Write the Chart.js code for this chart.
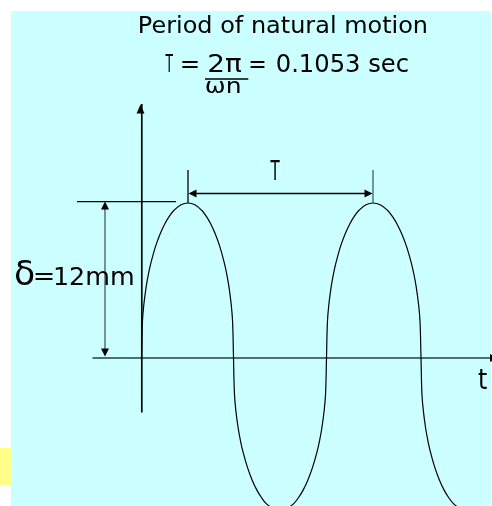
<!DOCTYPE html>
<html>
<head>
<meta charset="utf-8">
<script src="https://cdn.jsdelivr.net/npm/chart.js@4/dist/chart.umd.min.js"></script>
<style>
html,body{margin:0;padding:0;background:#ffffff;}
canvas{display:block;}
</style>
</head>
<body>
<canvas id="c" width="492" height="506" style="width:492px;height:506px"></canvas>
<script>
// ---- data ----
// time in seconds, displacement in mm
const timeSec = [
  0, 0.00053, 0.00132, 0.00265, 0.00397, 0.00529, 0.00794, 0.01059, 0.01324, 0.01588, 0.01853, 0.0225, 0.02647,
  0.03036, 0.03424, 0.03683, 0.03942, 0.04201, 0.0446, 0.04719, 0.04849, 0.04978, 0.05108, 0.05185, 0.05237,
  0.0529, 0.05369, 0.05502, 0.05634, 0.05766, 0.06031, 0.06295, 0.0656, 0.06825, 0.07089, 0.07486, 0.07883,
  0.0828, 0.08677, 0.08942, 0.09207, 0.09471, 0.09736, 0.10001, 0.10133, 0.10265, 0.10398, 0.10477, 0.1053,
  0.10583, 0.10662, 0.10795, 0.10927, 0.11059, 0.11324, 0.11589, 0.11854, 0.12118, 0.12383, 0.1278, 0.13177,
  0.13587, 0.13997, 0.1427, 0.14543, 0.14816, 0.15089, 0.15363, 0.15499, 0.15636, 0.15772, 0.15854, 0.15909,
  0.15961, 0.1604, 0.16171, 0.16302, 0.16433, 0.16694, 0.16956, 0.17218, 0.1748, 0.17742, 0.18134, 0.18527
];
const displacementMm = [
  0, 2.81, 4.12, 5.51, 6.52, 7.33, 8.62, 9.60, 10.38, 10.98, 11.44, 11.86, 12,
  11.86, 11.44, 10.98, 10.38, 9.60, 8.62, 7.33, 6.52, 5.51, 4.12, 2.81, 0,
  -2.76, -4.05, -5.42, -6.41, -7.21, -8.47, -9.44, -10.21, -10.80, -11.25, -11.66, -11.8,
  -11.66, -11.25, -10.80, -10.21, -9.44, -8.47, -7.21, -6.41, -5.42, -4.05, -2.76, 0,
  2.81, 4.12, 5.51, 6.52, 7.33, 8.62, 9.60, 10.38, 10.98, 11.44, 11.86, 12,
  11.86, 11.44, 10.98, 10.38, 9.60, 8.62, 7.33, 6.52, 5.51, 4.12, 2.81, 0,
  -2.76, -4.05, -5.42, -6.41, -7.21, -8.47, -9.44, -10.21, -10.80, -11.25, -11.66, -11.8
];
const periodPeaks = [0.02647, 0.13177];   // T measured peak to peak
const deltaMm = 12;                        // amplitude δ
const titleText = "Period of natural motion";
const formulaParts = ["T", "=", "2\u03C0", "\u03C9n", "=", "0.1053 sec"];
const periodLabel = "T";
const deltaLabel = ["\u03B4", "=", "12mm"];
const timeAxisLabel = "t";

// ---- drawing helpers ----
const FONT = '"DejaVu Sans", "Liberation Sans", sans-serif';
// draw text at a given font size, squeezing horizontally so its ink spans L..R
function fitW(ctx, text, L, baseline, R, size) {
  ctx.save();
  ctx.font = size + 'px ' + FONT;
  const m = ctx.measureText(text);
  const iw = m.actualBoundingBoxLeft + m.actualBoundingBoxRight;
  const sx = (R - L) / iw;
  ctx.translate(L + m.actualBoundingBoxLeft * sx, baseline);
  ctx.scale(sx, 1);
  ctx.textAlign = 'left';
  ctx.textBaseline = 'alphabetic';
  ctx.fillStyle = '#000';
  ctx.fillText(text, 0, 0);
  ctx.restore();
}
function line(ctx, x1, y1, x2, y2, color, w) {
  ctx.beginPath();
  ctx.moveTo(x1, y1); ctx.lineTo(x2, y2);
  ctx.strokeStyle = color; ctx.lineWidth = w; ctx.stroke();
}
function arrow(ctx, tx, ty, dir, len, hw, color) {
  ctx.beginPath();
  ctx.moveTo(tx, ty);
  if (dir === 'up')    { ctx.lineTo(tx - hw, ty + len); ctx.lineTo(tx + hw, ty + len); }
  if (dir === 'down')  { ctx.lineTo(tx - hw, ty - len); ctx.lineTo(tx + hw, ty - len); }
  if (dir === 'left')  { ctx.lineTo(tx + len, ty - hw); ctx.lineTo(tx + len, ty + hw); }
  if (dir === 'right') { ctx.lineTo(tx - len, ty - hw); ctx.lineTo(tx - len, ty + hw); }
  ctx.closePath();
  ctx.fillStyle = color; ctx.fill();
}

const deco = {
  id: 'deco',
  beforeDraw(chart) {
    const c = chart.ctx;
    c.save();
    c.fillStyle = '#ffffff'; c.fillRect(0, 0, 492, 506);
    c.fillStyle = '#CCFFFF'; c.fillRect(11, 11, 480, 495);
    c.fillStyle = '#FFFF88'; c.fillRect(0, 448, 11, 37);
    c.restore();
  },
  beforeDatasetsDraw(chart) {
    const c = chart.ctx, xs = chart.scales.x, ys = chart.scales.y;
    const x0 = xs.getPixelForValue(0), y0 = ys.getPixelForValue(0);
    c.save();
    // time axis
    line(c, x0 - 49, y0, 491, y0, '#4f6f6f', 2.2);
    c.save(); c.beginPath(); c.rect(0, 0, 492, 506); c.clip();
    arrow(c, 499, y0, 'right', 9, 4, '#000');
    c.restore();
    // displacement axis
    line(c, x0 + 0.3, 104, x0 + 0.3, 412.5, '#000', 1.7);
    arrow(c, x0 - 1, 104.5, 'up', 9, 4, '#000');
    c.restore();
  },
  afterDatasetsDraw(chart) {
    const c = chart.ctx, xs = chart.scales.x, ys = chart.scales.y;
    const x0 = xs.getPixelForValue(0), y0 = ys.getPixelForValue(0);
    const yPeak = ys.getPixelForValue(deltaMm);
    const xa = xs.getPixelForValue(periodPeaks[0]);
    const xb = xs.getPixelForValue(periodPeaks[1]);
    c.save();
    // period dimension
    const yT = yPeak - 9.5;
    line(c, xa, 170, xa, yPeak, '#000', 1.3);
    line(c, xb, 170, xb, yPeak, '#3f5f5f', 1.3);
    line(c, xa + 6, yT, xb - 6, yT, '#000', 1.3);
    arrow(c, xa + 0.5, yT, 'left', 8, 4, '#000');
    arrow(c, xb - 0.5, yT, 'right', 8, 4, '#000');
    // amplitude dimension
    const xd = x0 - 36.5;
    line(c, x0 - 64.5, yPeak - 1.3, x0 + 34.5, yPeak - 1.3, '#000', 1.3);
    line(c, xd, yPeak + 4, xd, y0 - 4, '#4f6666', 1.4);
    arrow(c, xd, yPeak - 1.5, 'up', 8, 4, '#000');
    arrow(c, xd, y0 - 1.5, 'down', 8, 4, '#000');
    // texts
    fitW(c, titleText, 140, 33.3, 426.7, 22.5);
    fitW(c, formulaParts[0], 165, 71.7, 173.3, 25);
    fitW(c, formulaParts[1], 181.7, 71.7, 198.3, 25);
    fitW(c, formulaParts[2], 208.3, 71.7, 241.7, 25);
    line(c, 205, 79, 248.3, 79, '#000', 1.4);
    fitW(c, formulaParts[3], 206, 93.3, 240, 21);
    fitW(c, formulaParts[4], 250, 71.7, 265, 25);
    fitW(c, formulaParts[5], 276.7, 71.7, 408.3, 25);
    fitW(c, periodLabel, 270, 180, 280, 27);
    fitW(c, deltaLabel[0], 15, 285, 33.3, 34);
    fitW(c, deltaLabel[1], 35, 284, 53.3, 25);
    fitW(c, deltaLabel[2], 55, 285, 133.3, 25);
    fitW(c, timeAxisLabel, 478, 389, 487, 29);
    c.restore();
  }
};

const points = timeSec.map((t, i) => ({ x: t, y: displacementMm[i] }));

new Chart(document.getElementById('c'), {
  type: 'line',
  data: {
    datasets: [{
      data: points,
      borderColor: '#000000',
      borderWidth: 1.2,
      pointRadius: 0,
      fill: false,
      tension: 0.4
    }]
  },
  options: {
    responsive: false,
    animation: false,
    devicePixelRatio: 1,
    layout: { padding: 0 },
    plugins: { legend: { display: false }, title: { display: false }, tooltip: { enabled: false } },
    scales: {
      x: { type: 'linear', min: -0.08054, max: 0.19950, display: false },
      y: { type: 'linear', min: -11.458, max: 27.716, display: false }
    }
  },
  plugins: [deco]
});
</script>
</body>
</html>
